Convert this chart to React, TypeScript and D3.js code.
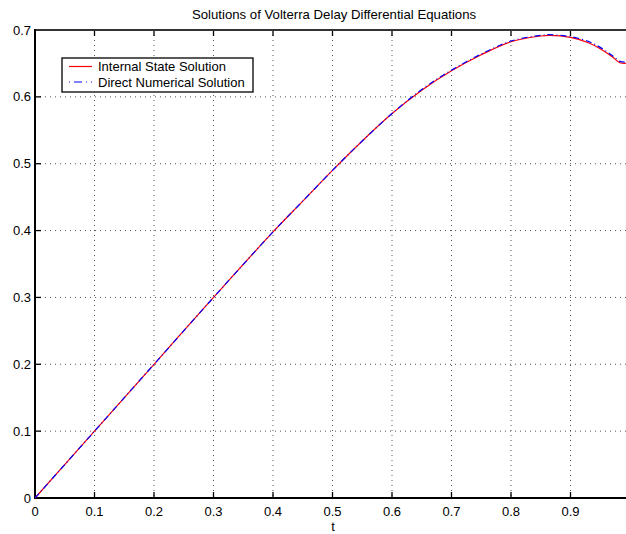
import React from "react";
import * as d3 from "d3";

const tValues = [0, 0.1, 0.2, 0.3, 0.4, 0.45, 0.5, 0.55, 0.6, 0.65, 0.7, 0.75, 0.8, 0.85, 0.865, 0.9, 0.93, 0.95, 0.97, 0.983, 0.993];
const internalState = [0, 0.1, 0.2, 0.3, 0.398, 0.444, 0.49, 0.534, 0.575, 0.61, 0.639, 0.663, 0.6825, 0.691, 0.692, 0.689, 0.681, 0.672, 0.66, 0.651, 0.65];
const directNumerical = [0, 0.1, 0.2, 0.3, 0.398, 0.444, 0.49, 0.534, 0.575, 0.611, 0.64, 0.664, 0.6835, 0.692, 0.693, 0.69, 0.683, 0.674, 0.662, 0.653, 0.652];
const xTicks = [0, 0.1, 0.2, 0.3, 0.4, 0.5, 0.6, 0.7, 0.8, 0.9];
const yTicks = [0, 0.1, 0.2, 0.3, 0.4, 0.5, 0.6, 0.7];
const legendLabels = ["Internal State Solution", "Direct Numerical Solution"];
const title = "Solutions of Volterra Delay Differential Equations";
const xLabel = "t";

const W = 626;
const H = 534;
const left = 35;
const top = 30;
const bottom = 498;
const right = 630;

export default function App() {
  const x = d3.scaleLinear().domain([0, 1]).range([left, right]);
  const y = d3.scaleLinear().domain([0, 0.7]).range([bottom, top]);
  const line = d3
    .line<number>()
    .x((_, i) => x(tValues[i]))
    .y((d) => y(d))
    .curve(d3.curveCatmullRom.alpha(0.5));
  const font = "Liberation Sans, Arial, Helvetica, sans-serif";
  return (
    <svg
      width={W}
      height={H}
      style={{ position: "absolute", left: 0, top: 0, background: "#fff" }}
      fontFamily={font}
    >
      <rect x={0} y={0} width={W} height={H} fill="#fff" />
      <text x={334} y={19} fontSize={13.2} textAnchor="middle" fill="#000">
        {title}
      </text>
      {/* grid */}
      {xTicks.slice(1).map((t) => (
        <line key={"gx" + t} x1={x(t)} x2={x(t)} y1={top} y2={bottom} stroke="#555" strokeWidth={1} strokeDasharray="1,4" />
      ))}
      {yTicks.slice(1, -1).map((t) => (
        <line key={"gy" + t} x1={left} x2={W} y1={y(t)} y2={y(t)} stroke="#555" strokeWidth={1} strokeDasharray="1,4" />
      ))}
      {/* ticks */}
      {xTicks.map((t) => (
        <g key={"tx" + t}>
          <line x1={x(t)} x2={x(t)} y1={bottom} y2={bottom - 6} stroke="#000" strokeWidth={1.3} />
          <line x1={x(t)} x2={x(t)} y1={top} y2={top + 6} stroke="#000" strokeWidth={1.3} />
          <text x={x(t)} y={bottom + 18} fontSize={13} textAnchor="middle" fill="#000">
            {t === 0 ? "0" : String(t)}
          </text>
        </g>
      ))}
      {yTicks.map((t) => (
        <g key={"ty" + t}>
          <line x1={left} x2={left + 6} y1={y(t)} y2={y(t)} stroke="#000" strokeWidth={1.3} />
          <text x={left - 4} y={y(t) + 4.5} fontSize={13} textAnchor="end" fill="#000">
            {t === 0 ? "0" : String(t)}
          </text>
        </g>
      ))}
      {/* axes */}
      <line x1={left} x2={W} y1={top} y2={top} stroke="#333" strokeWidth={2} />
      <line x1={left} x2={W} y1={bottom} y2={bottom} stroke="#000" strokeWidth={2} />
      <line x1={left} x2={left} y1={top - 1} y2={bottom + 1} stroke="#000" strokeWidth={2} />
      <text x={333} y={531} fontSize={13} textAnchor="middle" fill="#000">
        {xLabel}
      </text>
      {/* curves */}
      <path d={line(internalState) || ""} fill="none" stroke="#ff0000" strokeWidth={1.2} />
      <path d={line(directNumerical) || ""} fill="none" stroke="#0000ff" strokeWidth={1.2} strokeDasharray="6,3,1,3" />
      {/* legend */}
      <rect x={62} y={58} width={191} height={34} fill="#fff" stroke="#000" strokeWidth={1.3} />
      <line x1={69} x2={92} y1={66.5} y2={66.5} stroke="#ff0000" strokeWidth={1.2} />
      <line x1={69} x2={92} y1={82} y2={82} stroke="#0000ff" strokeWidth={1.2} strokeDasharray="1,4,8,4" />
      <text x={98} y={71} fontSize={13} fill="#000">
        {legendLabels[0]}
      </text>
      <text x={98} y={86.5} fontSize={13} fill="#000">
        {legendLabels[1]}
      </text>
    </svg>
  );
}
